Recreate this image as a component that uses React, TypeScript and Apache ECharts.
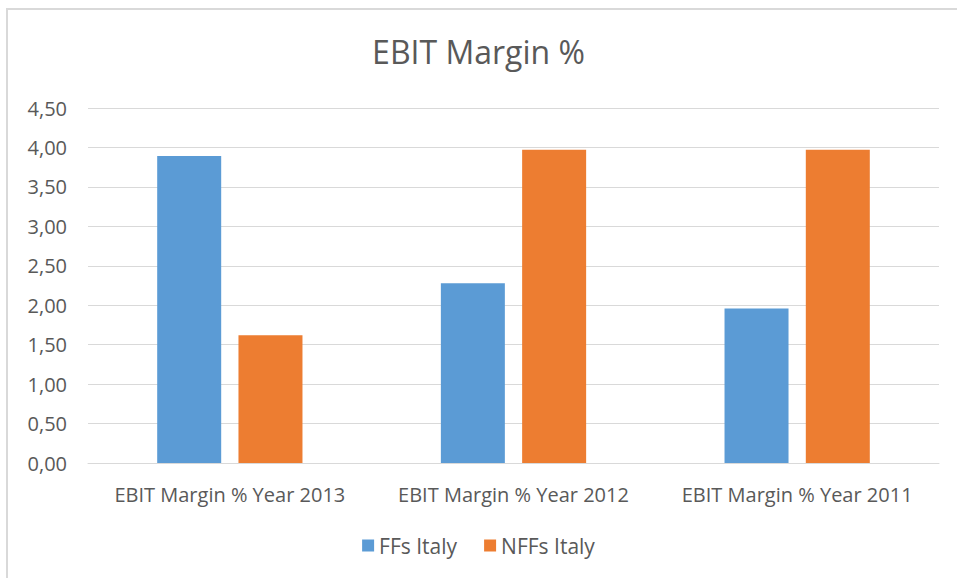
import React, { useEffect, useRef } from "react";
import * as echarts from "echarts";

const categories = [
  "EBIT Margin % Year 2013",
  "EBIT Margin % Year 2012",
  "EBIT Margin % Year 2011",
];
const ffsItaly = [3.89, 2.28, 1.96];
const nffsItaly = [1.62, 3.97, 3.97];
const seriesNames = ["FFs Italy", "NFFs Italy"];

const FONT = "'Open Sans', sans-serif";
const TEXT = "#595959";

export default function App() {
  const ref = useRef<HTMLDivElement>(null);
  useEffect(() => {
    if (!ref.current) return;
    const chart = echarts.init(ref.current, null, { renderer: "svg" });
    chart.setOption({
      animation: false,
      backgroundColor: "#ffffff",
      title: {
        text: "EBIT Margin %",
        left: "center",
        top: 30,
        textStyle: { fontFamily: FONT, fontSize: 32, fontWeight: "normal", color: TEXT },
      },
      graphic: [
        { type: "rect", shape: { x: 6, y: 8, width: 960, height: 2 }, style: { fill: "#d9d9d9" } },
        { type: "rect", shape: { x: 6, y: 8, width: 2, height: 580 }, style: { fill: "#d9d9d9" } },
      ],
      grid: { left: 88, right: 18, top: 108, bottom: 115 },
      legend: {
        bottom: 17,
        left: "center",
        itemWidth: 12,
        itemHeight: 12,
        itemGap: 27,
        icon: "rect",
        textStyle: { fontFamily: FONT, fontSize: 21, color: TEXT, padding: [0, 0, 0, 0] },
        data: seriesNames,
      },
      xAxis: {
        type: "category",
        data: categories,
        axisLine: { lineStyle: { color: "#d9d9d9", width: 1 } },
        axisTick: { show: false },
        axisLabel: { fontFamily: FONT, fontSize: 20, color: TEXT, margin: 21, interval: 0 },
      },
      yAxis: {
        type: "value",
        min: 0,
        max: 4.5,
        interval: 0.5,
        axisLine: { show: false },
        axisTick: { show: false },
        splitLine: { lineStyle: { color: "#d9d9d9", width: 1 } },
        axisLabel: {
          fontFamily: FONT,
          fontSize: 20,
          color: TEXT,
          margin: 21,
          formatter: (v: number) => v.toFixed(2).replace(".", ","),
        },
      },
      series: [
        {
          name: seriesNames[0],
          type: "bar",
          data: ffsItaly,
          barWidth: 64,
          barGap: "27%",
          itemStyle: { color: "#5B9BD5" },
        },
        {
          name: seriesNames[1],
          type: "bar",
          data: nffsItaly,
          barWidth: 64,
          barGap: "27%",
          itemStyle: { color: "#ED7D31" },
        },
      ],
    });
    return () => chart.dispose();
  }, []);
  return (
    <div
      ref={ref}
      style={{ position: "fixed", left: 0, top: 0, width: 957, height: 578 }}
    />
  );
}
